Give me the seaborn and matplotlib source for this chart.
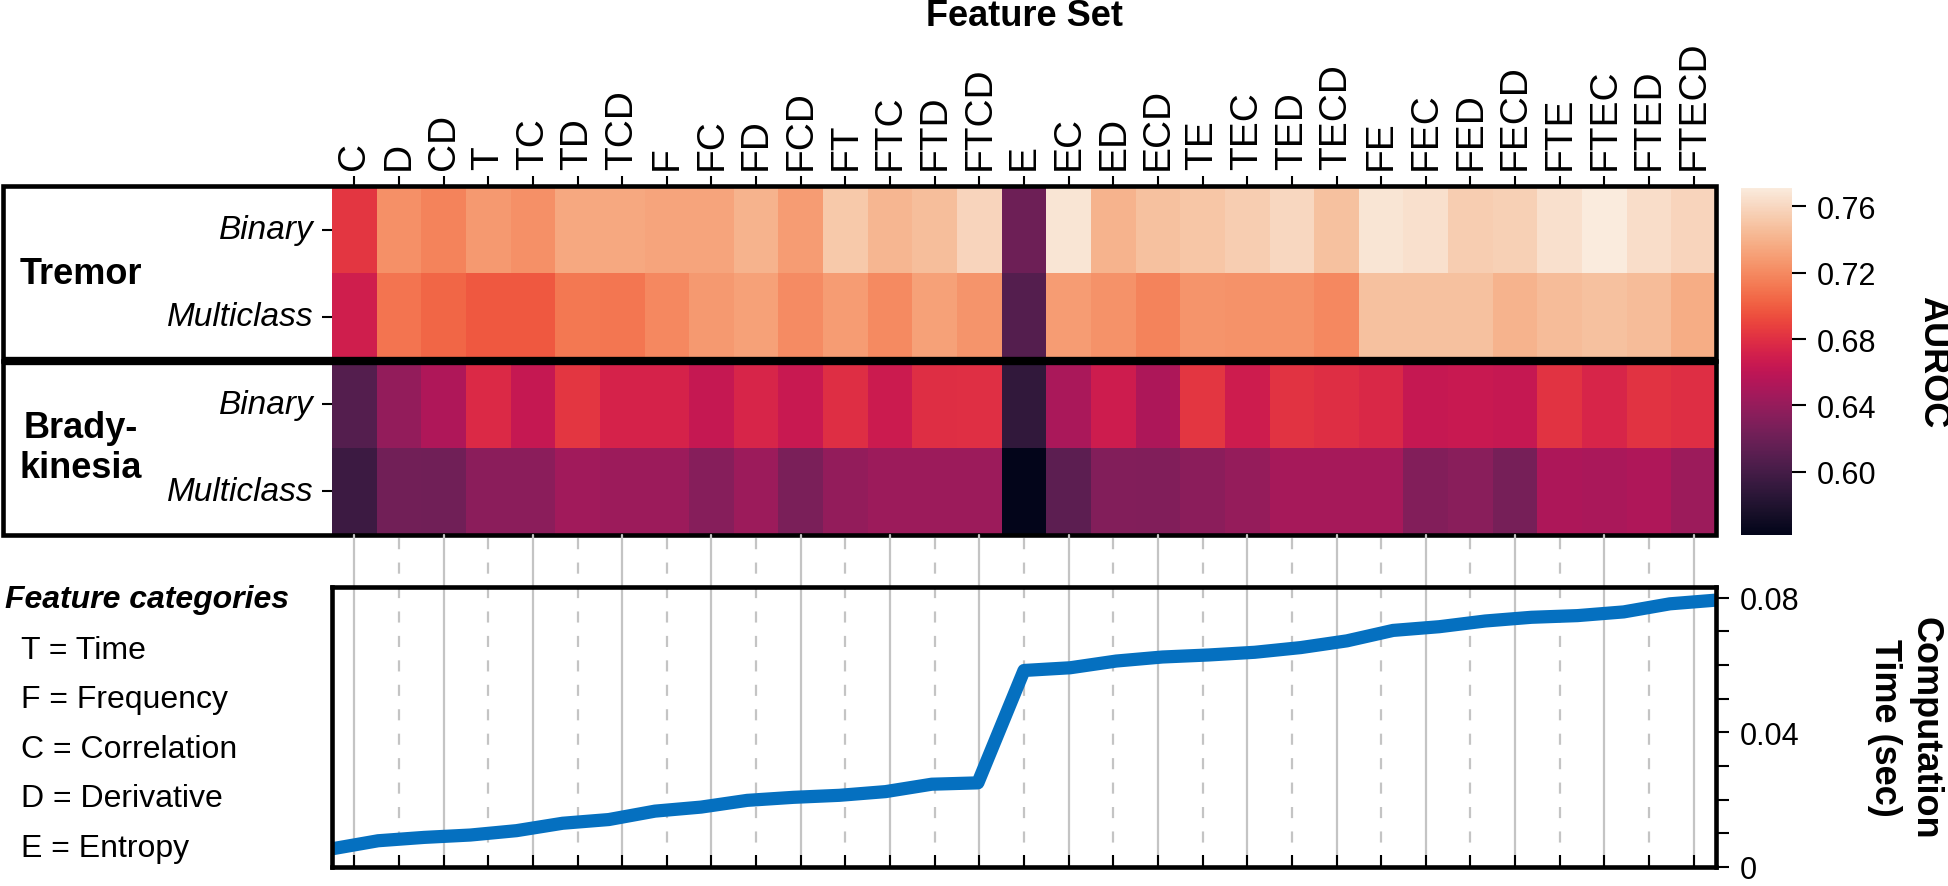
import numpy as np
import pandas as pd
import matplotlib
matplotlib.use('Agg')
import matplotlib.pyplot as plt
import matplotlib.transforms as mtransforms
from matplotlib.patches import Rectangle
import seaborn as sns

# feature sets (x axis of both panels)
feature_sets = ['C', 'D', 'CD', 'T', 'TC', 'TD', 'TCD', 'F', 'FC', 'FD', 'FCD',
                'FT', 'FTC', 'FTD', 'FTCD', 'E', 'EC', 'ED', 'ECD', 'TE', 'TEC',
                'TED', 'TECD', 'FE', 'FEC', 'FED', 'FECD', 'FTE', 'FTEC', 'FTED', 'FTECD']
row_labels = ['Binary', 'Multiclass', 'Binary', 'Multiclass']
group_labels = ['Tremor', 'Brady-\nkinesia']

# AUROC values
tremor_binary = [0.683, 0.723, 0.717, 0.727, 0.723, 0.735, 0.735, 0.733, 0.733, 0.740, 0.729,
                 0.752, 0.742, 0.746, 0.758, 0.620, 0.767, 0.740, 0.748, 0.750, 0.754,
                 0.760, 0.748, 0.767, 0.765, 0.754, 0.756, 0.765, 0.771, 0.763, 0.758]
tremor_multi = [0.669, 0.710, 0.704, 0.698, 0.698, 0.712, 0.711, 0.719, 0.727, 0.731, 0.721,
                0.729, 0.720, 0.731, 0.725, 0.608, 0.729, 0.724, 0.717, 0.725, 0.724,
                0.724, 0.719, 0.748, 0.748, 0.748, 0.740, 0.745, 0.748, 0.745, 0.737]
brady_binary = [0.608, 0.639, 0.652, 0.677, 0.664, 0.683, 0.673, 0.673, 0.664, 0.674, 0.665,
                0.679, 0.667, 0.679, 0.680, 0.589, 0.650, 0.668, 0.651, 0.683, 0.668,
                0.682, 0.679, 0.676, 0.664, 0.665, 0.664, 0.682, 0.674, 0.682, 0.679]
brady_multi = [0.595, 0.623, 0.622, 0.635, 0.635, 0.646, 0.643, 0.643, 0.633, 0.643, 0.627,
               0.639, 0.643, 0.643, 0.643, 0.562, 0.612, 0.631, 0.630, 0.635, 0.640,
               0.648, 0.648, 0.648, 0.631, 0.634, 0.625, 0.651, 0.650, 0.652, 0.643]

# computation time (sec) per feature set
comp_time = [0.0054, 0.0078, 0.0088, 0.0095, 0.0108, 0.0130, 0.0141, 0.0166, 0.0178, 0.0198,
             0.0207, 0.0213, 0.0224, 0.0246, 0.0250, 0.0584, 0.0592, 0.0612, 0.0624, 0.0630,
             0.0638, 0.0652, 0.0672, 0.0703, 0.0714, 0.0731, 0.0742, 0.0747, 0.0758, 0.0782,
             0.0793]

categories = ['T = Time', 'F = Frequency', 'C = Correlation', 'D = Derivative', 'E = Entropy']
cbar_ticks = [0.60, 0.64, 0.68, 0.72, 0.76]
time_ticks = [0, 0.01, 0.02, 0.03, 0.04, 0.05, 0.06, 0.07, 0.08]
time_ticklabels = ['0', '', '', '', '0.04', '', '', '', '0.08']

sns.set_style('ticks')
plt.rcParams['font.family'] = ['Liberation Sans', 'DejaVu Sans']
plt.rcParams['text.color'] = 'black'
plt.rcParams['xtick.color'] = 'black'
plt.rcParams['ytick.color'] = 'black'
plt.rcParams['axes.edgecolor'] = 'black'

W, H = 1948, 887
fig = plt.figure(figsize=(W / 100, H / 100), dpi=100)


def fx(px):
    return px / W


def fy(py):
    return 1 - py / H


hm_left, hm_right, hm_top, hm_bot = 332, 1716, 187, 536
ln_top, ln_bot = 588, 868

ax = fig.add_axes([fx(hm_left), fy(hm_bot), fx(hm_right - hm_left), (hm_bot - hm_top) / H])
cax = fig.add_axes([fx(1741), fy(536), fx(51), 347 / H])
lax = fig.add_axes([fx(hm_left), fy(ln_bot), fx(hm_right - hm_left), (ln_bot - ln_top) / H])

# ---- heatmap ----
auroc = pd.DataFrame([tremor_binary, tremor_multi, brady_binary, brady_multi],
                     columns=feature_sets)
sns.heatmap(auroc, ax=ax, cbar_ax=cax, cmap='rocket',
            xticklabels=feature_sets, yticklabels=row_labels)

ax.xaxis.tick_top()
ax.set_xticklabels(feature_sets, rotation=90, fontsize=28)
ax.set_yticklabels(row_labels, rotation=0, fontsize=24, style='italic')
ax.tick_params(axis='x', top=True, bottom=False, length=7, width=1.5, pad=5)
ax.tick_params(axis='y', left=True, length=7, width=1.5, pad=6)
ax.set_xlabel('')
ax.set_ylabel('')

# boxes around each symptom group, reaching to the left edge of the figure
blend = mtransforms.blended_transform_factory(fig.transFigure, ax.transData)
for g, y0 in enumerate([0, 2]):
    ax.add_patch(Rectangle((fx(3), y0), fx(hm_right) - fx(3), 2, transform=blend,
                           fill=False, lw=3.3, edgecolor='black', clip_on=False, zorder=5))
    ax.text(fx(81), y0 + 1, group_labels[g], transform=blend, ha='center', va='center',
            fontsize=26, fontweight='bold', multialignment='center')
# heavier divider where the two boxes meet
ax.plot([fx(3), fx(hm_right)], [2, 2], transform=blend, color='black', lw=6,
        clip_on=False, zorder=6, solid_capstyle='butt')

fig.text(fx(1024), fy(17), 'Feature Set', ha='center', va='center',
         fontsize=26, fontweight='bold')

cbar = ax.collections[0].colorbar
cbar.set_ticks(cbar_ticks)
cbar.set_ticklabels([f'{t:.2f}' for t in cbar_ticks])
cbar.ax.tick_params(labelsize=22, length=10, width=1.5, pad=8)
fig.text(fx(1933), fy(362), 'AUROC', rotation=270, ha='center', va='center',
         fontsize=26, fontweight='bold')

# ---- computation time line ----
x_pos = np.arange(len(comp_time))
sns.lineplot(x=x_pos, y=comp_time, ax=lax, color='#0570C0', lw=9.5, solid_capstyle='butt')
lax.set_xlim(0, len(comp_time) - 1)
lax.set_ylim(0, 0.0832)

n = len(feature_sets)
grid_x = [(i + 0.5) * (len(comp_time) - 1) / n for i in range(n)]
ext = 1 + (ln_top - hm_bot) / (ln_bot - ln_top)
for i, gx in enumerate(grid_x):
    lax.axvline(gx, ymin=0, ymax=ext, color='#C4C4C4', lw=1.6,
                ls='-' if i % 2 == 0 else (0, (5, 6)), clip_on=False, zorder=0.5)

lax.set_xticks(grid_x)
lax.set_xticklabels([])
lax.tick_params(axis='x', direction='in', length=9, width=1.5, bottom=True, top=False)

lax.yaxis.tick_right()
lax.set_yticks(time_ticks)
lax.set_yticklabels(time_ticklabels)
lax.tick_params(axis='y', right=True, left=False, length=9, width=1.5, labelsize=22, pad=8)
lax.set_xlabel('')
lax.set_ylabel('')
for sp in lax.spines.values():
    sp.set_visible(True)
    sp.set_linewidth(3.3)
    sp.set_color('black')

fig.text(fx(1905), fy(728), 'Computation\nTime (sec)', rotation=270, ha='center',
         va='center', multialignment='center', fontsize=26, fontweight='bold')

# ---- feature category key ----
fig.text(fx(5), fy(600), 'Feature categories', ha='left', va='center',
         fontsize=23, fontweight='bold', style='italic')
for k, s in enumerate(categories):
    fig.text(fx(21), fy(651 + 49.5 * k), s, ha='left', va='center', fontsize=23)

fig.savefig('out.png', dpi=100)
